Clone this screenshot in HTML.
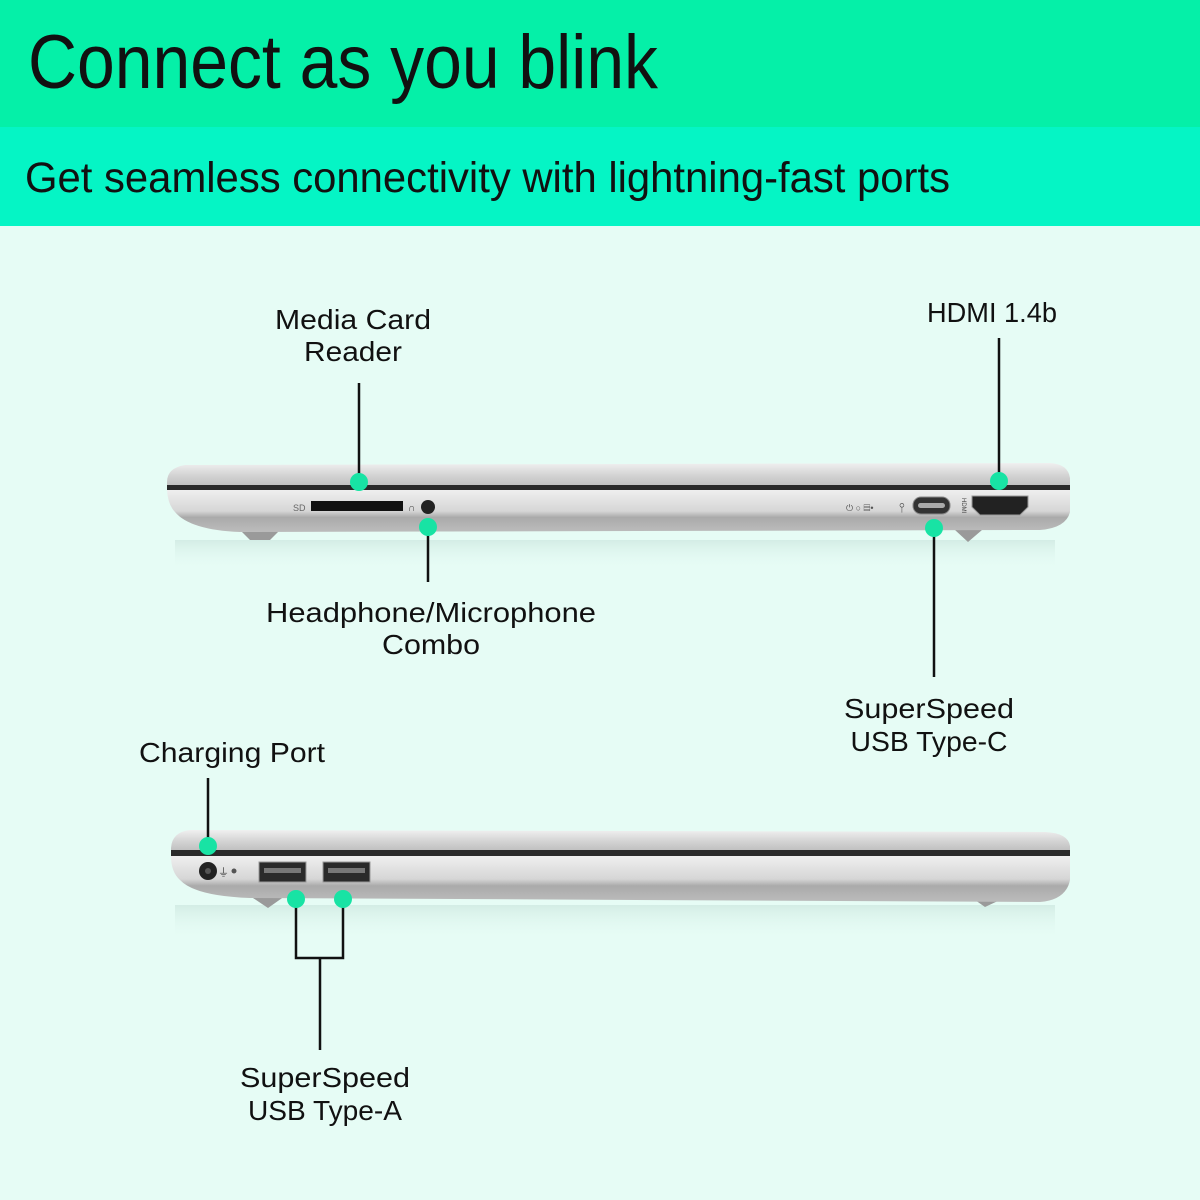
<!DOCTYPE html>
<html><head><meta charset="utf-8"><style>html,body{margin:0;padding:0;background:#e6fcf5}svg{display:block}</style></head>
<body>
<svg width="1200" height="1200" viewBox="0 0 1200 1200" xmlns="http://www.w3.org/2000/svg" font-family="Liberation Sans, sans-serif">
<defs>
<linearGradient id="lid" x1="0" y1="0" x2="0" y2="1"><stop offset="0" stop-color="#f0f0f0"/><stop offset="0.5" stop-color="#d4d4d4"/><stop offset="1" stop-color="#bdbdbd"/></linearGradient>
<linearGradient id="base" x1="0" y1="0" x2="0" y2="1"><stop offset="0" stop-color="#efefef"/><stop offset="0.5" stop-color="#d6d6d6"/><stop offset="0.65" stop-color="#aaaaaa"/><stop offset="1" stop-color="#bcbcbc"/></linearGradient>
<linearGradient id="refl" x1="0" y1="0" x2="0" y2="1"><stop offset="0" stop-color="#cfe9e1" stop-opacity="0.8"/><stop offset="1" stop-color="#e6fcf5" stop-opacity="0"/></linearGradient>
</defs>
<rect width="1200" height="1200" fill="#e6fcf5"/>
<rect width="1200" height="127" fill="#05f0a8"/>
<rect y="127" width="1200" height="99" fill="#05f5c5"/>
<text x="28" y="88" font-size="76" textLength="630" lengthAdjust="spacingAndGlyphs" fill="#111">Connect as you blink</text>
<text x="25" y="192" font-size="43" textLength="925" lengthAdjust="spacingAndGlyphs" fill="#111">Get seamless connectivity with lightning-fast ports</text>

<!-- laptop 1 -->
<rect x="175" y="540" width="880" height="30" fill="url(#refl)"/>
<path d="M240 530 L250 540 L270 540 L280 530Z M955 530 L968 542 L982 530Z" fill="#9a9a9a"/>
<path d="M185 465 Q167 468 167 482 L167 487 L1070 487 L1070 478 Q1068 464 1050 463 Z" fill="url(#lid)"/>
<rect x="167" y="485" width="903" height="5" fill="#2a2a2a"/>
<path d="M167 490 L1070 490 L1070 512 Q1066 528 1040 530 L240 532 Q190 530 175 512 Q168 505 167 490Z" fill="url(#base)"/>
<text x="293" y="511" font-size="9" fill="#666">SD</text>
<rect x="311" y="501" width="92" height="10" fill="#111"/>
<text x="408" y="511" font-size="10" fill="#444">∩</text>
<circle cx="428" cy="507" r="7" fill="#222"/>
<text x="846" y="511" font-size="9" fill="#555">⏻ ○  ▤•</text>
<text x="899" y="512" font-size="13" fill="#444">⫯</text>
<rect x="913" y="497" width="37" height="17" rx="8" fill="#333" stroke="#888"/>
<rect x="918" y="503" width="27" height="5" rx="2.5" fill="#aaa"/>
<text x="962" y="498" font-size="6" fill="#444" transform="rotate(90 962 498)">HDMI</text>
<path d="M972 496 L1028 496 L1028 507 L1020 515 L980 515 L972 507Z" fill="#222" stroke="#999"/>
<line x1="359" y1="383" x2="359" y2="482" stroke="#111" stroke-width="2.5"/>
<circle cx="359" cy="482" r="9" fill="#18e3a4"/>
<line x1="428" y1="525" x2="428" y2="582" stroke="#111" stroke-width="2.5"/>
<circle cx="428" cy="527" r="9" fill="#18e3a4"/>
<line x1="999" y1="338" x2="999" y2="481" stroke="#111" stroke-width="2.5"/>
<circle cx="999" cy="481" r="9" fill="#18e3a4"/>
<line x1="934" y1="528" x2="934" y2="677" stroke="#111" stroke-width="2.5"/>
<circle cx="934" cy="528" r="9" fill="#18e3a4"/>

<!-- laptop 2 -->
<rect x="175" y="905" width="880" height="35" fill="url(#refl)"/>
<path d="M250 896 L268 908 L285 896Z M975 900 L985 907 L1000 900Z" fill="#9a9a9a"/>
<path d="M190 830 Q172 832 171 848 L171 852 L1070 852 L1070 846 Q1068 833 1045 832 Z" fill="url(#lid)"/>
<rect x="171" y="850" width="899" height="6" fill="#2a2a2a"/>
<path d="M171 856 L1070 856 L1070 880 Q1066 900 1040 902 L250 898 Q195 896 180 880 Q171 872 171 856Z" fill="url(#base)"/>
<circle cx="208" cy="871" r="9" fill="#222"/>
<circle cx="208" cy="871" r="3" fill="#555"/>
<text x="218" y="876" font-size="11" fill="#444">⏚</text>
<circle cx="234" cy="871" r="2.5" fill="#555"/>
<rect x="259" y="862" width="47" height="20" fill="#2a2a2a" stroke="#999"/>
<rect x="264" y="868" width="37" height="5" fill="#777"/>
<rect x="323" y="862" width="47" height="20" fill="#2a2a2a" stroke="#999"/>
<rect x="328" y="868" width="37" height="5" fill="#777"/>
<line x1="208" y1="778" x2="208" y2="846" stroke="#111" stroke-width="2.5"/>
<circle cx="208" cy="846" r="9" fill="#18e3a4"/>
<path d="M296 899 L296 958 L343 958 L343 899" fill="none" stroke="#111" stroke-width="2.5"/>
<line x1="320" y1="958" x2="320" y2="1050" stroke="#111" stroke-width="2.5"/>
<circle cx="296" cy="899" r="9" fill="#18e3a4"/>
<circle cx="343" cy="899" r="9" fill="#18e3a4"/>

<g font-size="28" fill="#111" text-anchor="middle">
<text x="353" y="329" textLength="156" lengthAdjust="spacingAndGlyphs">Media Card</text>
<text x="353" y="361" textLength="98" lengthAdjust="spacingAndGlyphs">Reader</text>
<text x="992" y="322" textLength="130" lengthAdjust="spacingAndGlyphs">HDMI 1.4b</text>
<text x="431" y="622" textLength="330" lengthAdjust="spacingAndGlyphs">Headphone/Microphone</text>
<text x="431" y="654" textLength="98" lengthAdjust="spacingAndGlyphs">Combo</text>
<text x="929" y="718" textLength="170" lengthAdjust="spacingAndGlyphs">SuperSpeed</text>
<text x="929" y="751" textLength="157" lengthAdjust="spacingAndGlyphs">USB Type-C</text>
<text x="232" y="762" textLength="186" lengthAdjust="spacingAndGlyphs">Charging Port</text>
<text x="325" y="1087" textLength="170" lengthAdjust="spacingAndGlyphs">SuperSpeed</text>
<text x="325" y="1120" textLength="154" lengthAdjust="spacingAndGlyphs">USB Type-A</text>
</g>
</svg>
</body></html>
